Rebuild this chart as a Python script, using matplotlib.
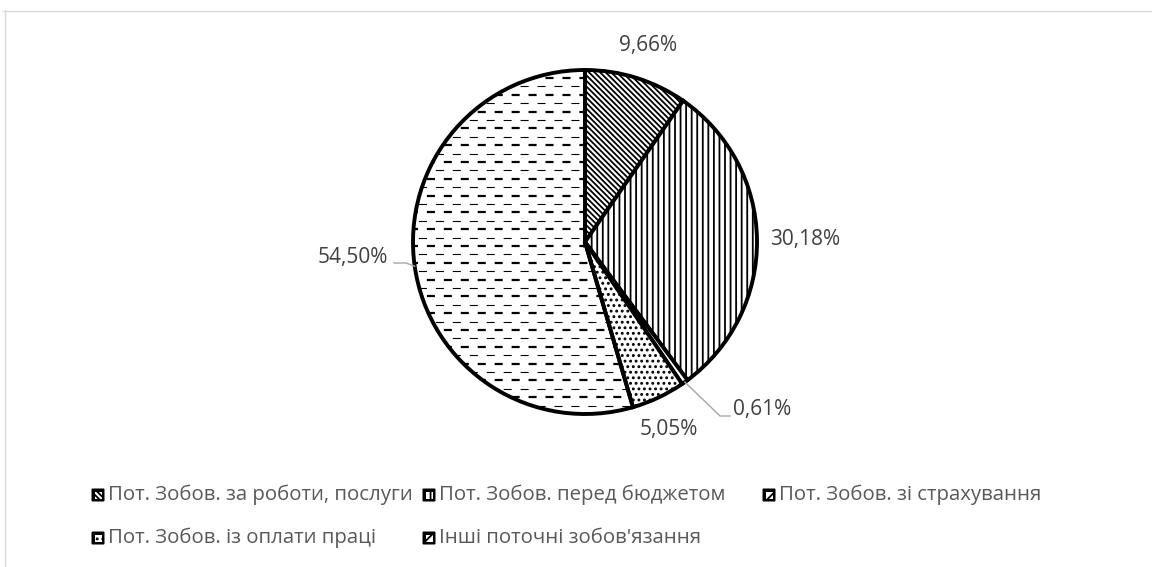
import numpy as np
import matplotlib
matplotlib.use("Agg")
import matplotlib.pyplot as plt
from matplotlib.collections import LineCollection
from matplotlib.patches import FancyBboxPatch, Rectangle

plt.rcParams['font.family'] = ['Open Sans', 'DejaVu Sans']
plt.rcParams['hatch.linewidth'] = 1.3
plt.rcParams['lines.scale_dashes'] = False

# structure of current liabilities, %
categories = ["Пот. Зобов. за роботи, послуги",
              "Пот. Зобов. перед бюджетом",
              "Пот. Зобов. зі страхування",
              "Пот. Зобов. із оплати праці",
              "Інші поточні зобов'язання"]
shares = [9.66, 30.18, 0.61, 5.05, 54.50]
value_labels = ["9,66%", "30,18%", "0,61%", "5,05%", "54,50%"]

W, H = 1152, 567
hatches = ['\\' * 6, '|||', '', '...', '']

fig = plt.figure(figsize=(W / 100, H / 100), dpi=100)
ax = fig.add_axes([0, 0, 1, 1])

cx, cy, r = 585, H - 242, 172
wedges, _ = ax.pie(shares, startangle=90, counterclock=False,
                   center=(cx, cy), radius=r, hatch=hatches,
                   wedgeprops=dict(facecolor='white', edgecolor='black',
                                   linewidth=2.8, joinstyle='miter'))
ax.set_xlim(0, W)
ax.set_ylim(0, H)
ax.set_aspect('auto')
ax.axis('off')

# dashed horizontal fill for the largest slice
big = wedges[4]
ys = np.arange(cy - r, cy + r, 8.4)
for i, yy in enumerate(ys):
    thick = i % 2 == 0
    lc = LineCollection([[(cx - r - 20, yy), (cx + r, yy)]],
                        colors='black',
                        linewidths=1.6 if thick else 0.8,
                        linestyles=[(0 if thick else 6.1, (5.8, 6.4))],
                        zorder=3)
    lc.set_clip_path(big)
    ax.add_collection(lc)
big.set_zorder(4)
big.set_facecolor('none')

# value labels
label_pos = [(648, 46, 'center'), (770, 240, 'left'), (733, 410, 'left'),
             (669, 430, 'center'), (388, 258, 'right')]
texts = []
for lab, (x, y, ha) in zip(value_labels, label_pos):
    t = ax.text(x, H - y, lab, ha=ha, va='center', fontsize=13,
                color='#404040')
    texts.append(t)

# leader lines
def edge_point(w):
    th = np.deg2rad((w.theta1 + w.theta2) / 2)
    return cx + r * np.cos(th), cy + r * np.sin(th)

ex, ey = edge_point(wedges[2])
ax.plot([ex, 720, 730], [ey, H - 416, H - 416], color='#a6a6a6', lw=1,
        zorder=5)
ex, ey = edge_point(wedges[4])
ax.plot([394, 406, ex], [H - 263, H - 263, ey], color='#a6a6a6', lw=1,
        zorder=5)

# legend
leg_pos = [(91, 495), (422, 495), (762, 495), (91, 538), (422, 538)]
leg_texts = []
for name, h, (x, y) in zip(categories, hatches, leg_pos):
    ax.add_patch(FancyBboxPatch((x + 1.5, H - y - 5.5), 11, 11,
                                boxstyle='round,pad=1', facecolor='black',
                                edgecolor='black', lw=0))
    ax.add_patch(Rectangle((x + 3.5, H - y - 3.5), 7, 7, facecolor='white',
                           edgecolor='black', lw=0, hatch=h or '//'))
    t = ax.text(x + 17, H - y, name, ha='left', va='center', fontsize=13,
                color='#595959')
    leg_texts.append(t)

# size the fonts to the measured widths
fig.canvas.draw()
rend = fig.canvas.get_renderer()
def fit(t, width):
    w = t.get_window_extent(rend).width
    t.set_fontsize(t.get_fontsize() * width / w)
fit(texts[4], 70)
for t in texts[:4]:
    t.set_fontsize(texts[4].get_fontsize())
fit(leg_texts[0], 304)
for t in leg_texts[1:]:
    t.set_fontsize(leg_texts[0].get_fontsize())

# chart area border
fig.add_artist(plt.Line2D([3 / W, 1], [1 - 11 / H, 1 - 11 / H],
                          color='#d9d9d9', lw=1))
fig.add_artist(plt.Line2D([5 / W, 5 / W], [0, 1 - 11 / H],
                          color='#d9d9d9', lw=1))

fig.savefig('out.png', dpi=100, facecolor='white')
